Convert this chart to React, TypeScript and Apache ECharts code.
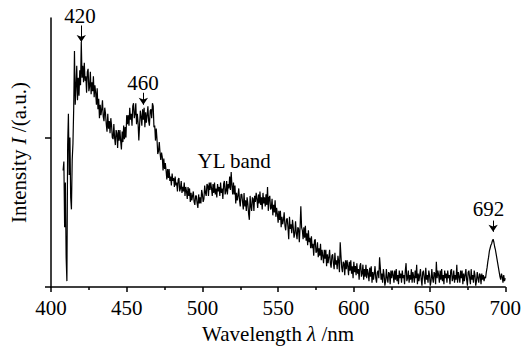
import React, { useEffect, useRef } from "react";
import * as echarts from "echarts";

const FONT = "'Liberation Serif', 'Times New Roman', serif";

// Onset region sampled at 0.5 nm
const START_WAVELENGTHS = [408, 408.5, 409, 409.5, 410, 410.5, 411, 411.5, 412, 412.5, 413, 413.5, 414, 414.5, 415, 415.5, 416, 416.5, 417, 417.5, 418, 418.5, 419, 419.5, 420, 420.5];
const START_VALUES = [78, 84, 40, 70, 20, 4, 95, 116, 75, 100, 60, 52, 85, 96, 120, 158, 122, 134, 148, 125, 140, 128, 145, 135, 164, 140];

// Main region, 0.5 nm steps from 421 nm to 700 nm (each row = 5 nm)
const MAIN_START = 421;
const MAIN_STEP = 0.5;
const MAIN_VALUES = [
  148, 137, 150, 138, 141, 130, 144, 146, 131, 134, // 421
  144, 129, 137, 131, 141, 127, 135, 130, 122, 133, // 426
  119, 126, 113, 122, 115, 119, 125, 114, 111, 120, // 431
  116, 109, 104, 116, 106, 111, 103, 113, 108, 100, // 436
  99, 109, 100, 95, 105, 103, 93, 105, 98, 105, // 441
  98, 92, 104, 97, 108, 99, 107, 100, 115, 109, // 446
  115, 108, 120, 112, 116, 108, 121, 123, 113, 116, // 451
  123, 109, 116, 110, 98, 108, 118, 114, 108, 119, // 456
  112, 120, 107, 117, 110, 115, 121, 111, 108, 118, // 461
  119, 113, 123, 121, 107, 108, 98, 106, 99, 89, // 466
  91, 97, 90, 85, 90, 87, 78, 86, 79, 83, // 471
  78, 72, 79, 73, 79, 71, 74, 68, 76, 71, // 476
  73, 67, 74, 68, 70, 64, 72, 73, 64, 66, // 481
  71, 63, 67, 64, 70, 61, 67, 64, 59, 67, // 486
  61, 66, 57, 63, 58, 61, 64, 57, 55, 61, // 491
  61, 56, 53, 62, 56, 60, 56, 65, 62, 57, // 496
  59, 68, 63, 61, 69, 68, 61, 70, 65, 70, // 501
  66, 61, 69, 63, 70, 62, 66, 60, 69, 64, // 506
  67, 61, 70, 63, 66, 59, 69, 71, 62, 64, // 511
  71, 62, 69, 66, 74, 65, 77, 68, 62, 70, // 516
  62, 68, 56, 63, 58, 61, 66, 58, 54, 62, // 521
  62, 57, 52, 63, 54, 58, 51, 60, 56, 49, // 526
  45, 61, 54, 51, 60, 59, 51, 61, 57, 63, // 531
  59, 53, 62, 56, 64, 55, 60, 52, 63, 56, // 536
  60, 54, 62, 55, 67, 51, 60, 61, 52, 53, // 541
  59, 48, 55, 50, 58, 47, 53, 49, 43, 51, // 546
  45, 51, 40, 47, 42, 45, 50, 41, 38, 45, // 551
  46, 40, 32, 47, 39, 42, 36, 45, 40, 33, // 556
  36, 44, 36, 32, 40, 39, 30, 40, 54, 40, // 561
  38, 32, 40, 33, 41, 31, 36, 28, 38, 30, // 566
  33, 26, 34, 26, 29, 21, 31, 32, 23, 24, // 571
  30, 20, 26, 21, 29, 18, 25, 21, 16, 25, // 576
  19, 25, 14, 22, 16, 20, 25, 16, 13, 21, // 581
  22, 16, 12, 23, 15, 18, 12, 21, 17, 10, // 586
  30, 21, 13, 10, 17, 16, 8, 18, 12, 18, // 591
  14, 8, 17, 11, 18, 9, 14, 6, 17, 10, // 596
  14, 8, 16, 9, 12, 5, 14, 16, 7, 9, // 601
  15, 5, 12, 7, 15, 6, 12, 9, 4, 13, // 606
  7, 14, 3, 10, 5, 9, 14, 6, 3, 10, // 611
  11, 6, 20, 13, 5, 9, 3, 12, 8, 1, // 616
  4, 12, 6, 3, 10, 9, 2, 11, 6, 11, // 621
  8, 3, 11, 5, 12, 4, 8, 2, 11, 6, // 626
  9, 3, 11, 6, 8, 2, 11, 16, 4, 6, // 631
  11, 3, 8, 5, 12, 3, 10, 7, 3, 11, // 636
  6, 15, 2, 9, 4, 8, 12, 5, 1, 10, // 641
  11, 6, 2, 13, 5, 8, 3, 11, 8, 1, // 646
  4, 12, 6, 3, 10, 9, 2, 17, 6, 11, // 651
  8, 3, 11, 5, 12, 4, 8, 2, 11, 6, // 656
  9, 3, 11, 6, 8, 2, 11, 12, 4, 6, // 661
  11, 3, 8, 5, 15, 3, 10, 7, 3, 11, // 666
  6, 11, 2, 9, 4, 8, 12, 5, 1, 10, // 671
  11, 6, 2, 12, 5, 8, 3, 11, 8, 1, // 676
  4, 10, 6, 3, 9, 8, 2, 9, 5, 8, // 681
  4, 7, 6, 10, 13, 17, 20, 24, 26, 28, // 686
  29, 31, 32, 30, 27, 25, 22, 19, 16, 13, // 691
  10, 7, 5, 9, 7, 3, 8, 4, 6, // 696
];

const X_MIN = 400;
const X_MAX = 700;
const X_INTERVAL = 50;
const Y_MIN = 0;
const Y_MAX = 180;
const Y_TICKS = [0, 100];

const ANNOT_LABELS = ["420", "460", "YL band", "692"];
const ANNOT_X = [419.2, 460.7, 521, 689];
const ANNOT_Y = [181.6, 136.7, 84.5, 52.2];

const ARROW_X = [420, 461, 692];
const ARROW_TOP = [175, 130, 44.5];
const ARROW_TIP = [164, 122, 37];

export default function App() {
  const ref = useRef<HTMLDivElement>(null);
  useEffect(() => {
    if (!ref.current) return;
    const chart = echarts.init(ref.current, null, { renderer: "svg" });
    const data: number[][] = [];
    START_WAVELENGTHS.forEach((w, i) => data.push([w, START_VALUES[i]]));
    MAIN_VALUES.forEach((v, i) => data.push([MAIN_START + i * MAIN_STEP, v]));

    const axisStyle = { color: "#000", width: 1.5 };
    const nameStyle = {
      color: "#000",
      fontSize: 21,
      fontFamily: FONT,
      rich: { i: { fontStyle: "italic", fontSize: 21, fontFamily: FONT, color: "#000" } },
    };
    chart.setOption({
      animation: false,
      grid: { left: 50, right: 15, top: 18, bottom: 52 },
      xAxis: {
        type: "value",
        min: X_MIN,
        max: X_MAX,
        interval: X_INTERVAL,
        axisLine: { show: true, lineStyle: axisStyle },
        axisTick: { show: true, length: 5, lineStyle: axisStyle },
        minorTick: { show: true, splitNumber: 2, length: 3, lineStyle: axisStyle },
        splitLine: { show: false },
        axisLabel: { color: "#000", fontSize: 21, fontFamily: FONT, margin: 10 },
        name: "Wavelength {i|λ} /nm",
        nameLocation: "middle",
        nameGap: 31,
        nameTextStyle: nameStyle,
      },
      yAxis: {
        type: "value",
        min: Y_MIN,
        max: Y_MAX,
        axisLine: { show: true, lineStyle: axisStyle },
        axisTick: { show: true, length: 6, lineStyle: axisStyle, customValues: Y_TICKS },
        axisLabel: { show: false },
        splitLine: { show: false },
        name: "Intensity {i|I} /(a.u.)",
        nameLocation: "middle",
        nameGap: 22,
        nameTextStyle: nameStyle,
      },
      series: [
        {
          type: "line",
          data,
          symbol: "none",
          showSymbol: false,
          lineStyle: { color: "#000", width: 1.2 },
          clip: false,
          markLine: {
            silent: true,
            symbol: ["none", "arrow"],
            symbolSize: 7,
            label: { show: false },
            lineStyle: { color: "#000", width: 1, type: "solid" },
            emphasis: { disabled: true },
            data: ARROW_X.map((x, i) => [
              { coord: [x, ARROW_TOP[i]] },
              { coord: [x, ARROW_TIP[i]] },
            ]),
          },
        },
      ],
    });

    const graphics = ANNOT_LABELS.map((t, i) => {
      const p = chart.convertToPixel({ gridIndex: 0 }, [ANNOT_X[i], ANNOT_Y[i]]) as number[];
      return {
        type: "text",
        x: p[0],
        y: p[1],
        style: {
          text: t,
          fontSize: 21,
          fontFamily: FONT,
          fill: "#000",
          align: "center",
          verticalAlign: "middle",
        },
      };
    });
    chart.setOption({ graphic: graphics });

    return () => chart.dispose();
  }, []);
  return (
    <div
      ref={ref}
      style={{ position: "fixed", left: 0, top: 0, width: 524, height: 349, background: "#fff" }}
    />
  );
}
